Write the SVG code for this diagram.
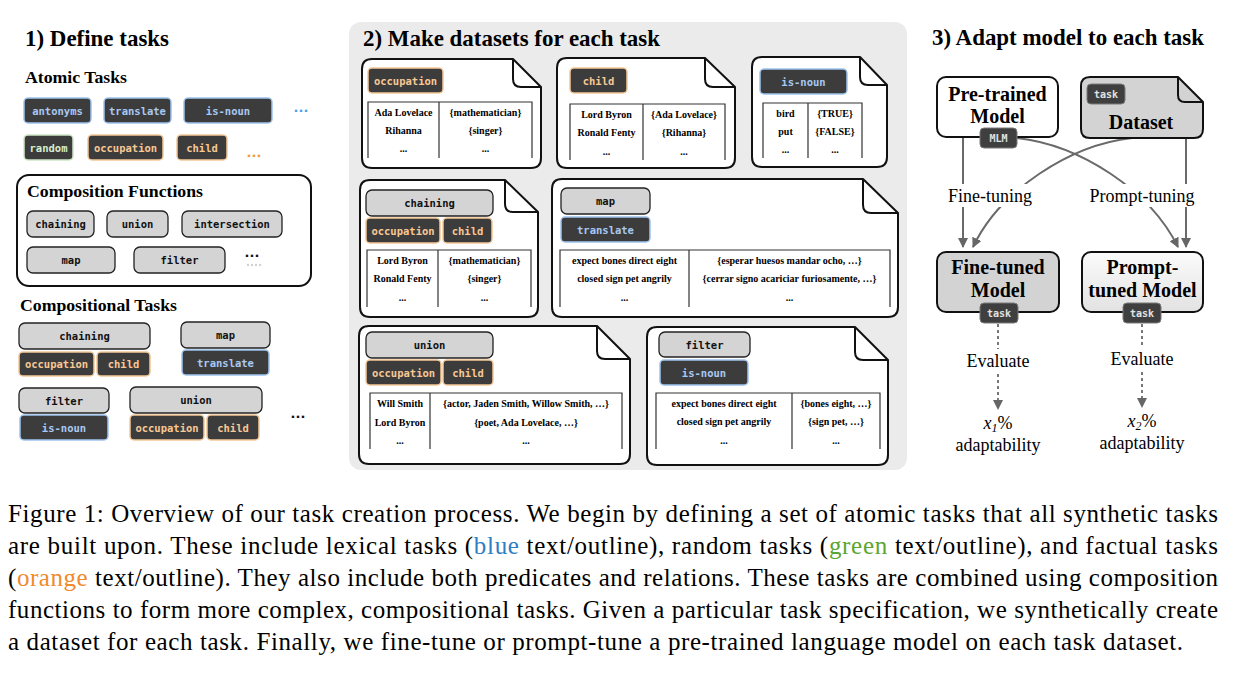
<svg xmlns="http://www.w3.org/2000/svg" width="1240" height="674" viewBox="0 0 1240 674">
<defs>
<style>
.h1{font-family:"Liberation Serif",serif;font-weight:bold;font-size:22.5px;fill:#000}
.h2{font-family:"Liberation Serif",serif;font-weight:bold;font-size:17px;fill:#000}
.mt{font-family:"Liberation Serif",serif;font-weight:bold;font-size:20px;fill:#000;text-anchor:middle}
.lb{font-family:"Liberation Serif",serif;font-size:18px;fill:#000;text-anchor:middle}
.tt{font-family:"Liberation Serif",serif;font-weight:bold;font-size:10px;fill:#000;text-anchor:middle}
.cap{font-family:"Liberation Serif",serif;font-size:25px;fill:#000}
.ct{font-family:"DejaVu Sans Mono",monospace;font-weight:bold;font-size:10.5px;text-anchor:middle}
.cb{fill:#3c3c3c;stroke:#9fc3f0;stroke-width:1.5}
.co{fill:#3c3c3c;stroke:#f5c796;stroke-width:1.5}
.cg{fill:#3c3c3c;stroke:#cfe6c6;stroke-width:1.5}
.cf{fill:#d4d4d4;stroke:#222;stroke-width:1.3}
.ck{fill:#3f3f3f;stroke:#7a7a7a;stroke-width:1}
.tb{fill:#a8c9f2}
.to{fill:#f8c894}
.tg{fill:#d6edcd}
.tf{fill:#111}
.tk{fill:#e2e2e2;font-size:10px}
.dots{font-family:"DejaVu Sans",sans-serif;font-weight:bold;font-size:13px;text-anchor:middle}
.doc{fill:#fff;stroke:#111;stroke-width:2;stroke-linejoin:round}
.flap{fill:none;stroke:#111;stroke-width:2}
.tbl{fill:none;stroke:#333;stroke-width:1.2}
.con{fill:none;stroke:#6a6a6a;stroke-width:2}
.dot{fill:none;stroke:#777;stroke-width:2;stroke-dasharray:3 3}
</style>
<marker id="ah" viewBox="0 0 10 10" refX="9" refY="5" markerWidth="10" markerHeight="10" markerUnits="userSpaceOnUse" orient="auto">
<path d="M0,0 L10,5 L0,10 Z" fill="#666"/>
</marker>
<linearGradient id="pg" x1="0" y1="0" x2="0" y2="1">
<stop offset="0" stop-color="#fbfbfb"/>
<stop offset="1" stop-color="#e2e2e2"/>
</linearGradient>
</defs>
<rect width="1240" height="674" fill="#fff"/>

<!-- Section 1 -->
<g id="section1">
<text class="h1" x="25" y="46" textLength="144" lengthAdjust="spacingAndGlyphs">1) Define tasks</text>
<text class="h2" x="25" y="83" textLength="102" lengthAdjust="spacingAndGlyphs">Atomic Tasks</text>
</g>
<g id="atomic-antonyms"><rect class="cb" x="24" y="98" width="67" height="25" rx="4"/><text class="ct tb" x="57.5" y="114.5">antonyms</text></g>
<g id="atomic-translate"><rect class="cb" x="104" y="98" width="67" height="25" rx="4"/><text class="ct tb" x="137.5" y="114.5">translate</text></g>
<g id="atomic-is-noun"><rect class="cb" x="184" y="98" width="88" height="25" rx="4"/><text class="ct tb" x="228" y="114.5">is-noun</text></g>
<text class="dots" x="301" y="112" fill="#4a9fe8">...</text>
<g id="atomic-random"><rect class="cg" x="24" y="135" width="49" height="25" rx="4"/><text class="ct tg" x="48.5" y="151.5">random</text></g>
<g id="atomic-occupation"><rect class="co" x="88" y="135" width="75" height="25" rx="4"/><text class="ct to" x="125.5" y="151.5">occupation</text></g>
<g id="atomic-child"><rect class="co" x="177" y="135" width="50" height="25" rx="4"/><text class="ct to" x="202" y="151.5">child</text></g>
<text class="dots" x="254" y="157" fill="#f39a3a">...</text>

<g id="composition-functions">
<rect x="17" y="175" width="294" height="111" rx="12" fill="#fff" stroke="#111" stroke-width="2"/>
<text class="h2" x="27" y="197" textLength="176" lengthAdjust="spacingAndGlyphs">Composition Functions</text>
<rect class="cf" x="27" y="211" width="67" height="26" rx="6"/><text class="ct tf" x="60.5" y="228">chaining</text>
<rect class="cf" x="107" y="211" width="61" height="26" rx="6"/><text class="ct tf" x="137.5" y="228">union</text>
<rect class="cf" x="182" y="211" width="100" height="26" rx="6"/><text class="ct tf" x="232" y="228">intersection</text>
<rect class="cf" x="27" y="247" width="88" height="26" rx="6"/><text class="ct tf" x="71" y="264">map</text>
<rect class="cf" x="134" y="247" width="91" height="26" rx="6"/><text class="ct tf" x="179.5" y="264">filter</text>
<text class="dots" x="252" y="257" fill="#111">...</text>
<g fill="#d0d0d0"><circle cx="248" cy="265" r="1.2"/><circle cx="252" cy="265" r="1.2"/><circle cx="256" cy="265" r="1.2"/><circle cx="260" cy="265" r="1.2"/></g>
</g>

<text class="h2" x="20" y="311" textLength="157" lengthAdjust="spacingAndGlyphs">Compositional Tasks</text>
<g id="comp-chaining">
<rect class="cf" x="19" y="323" width="131" height="26" rx="6"/><text class="ct tf" x="84.5" y="340">chaining</text>
<rect class="co" x="19" y="352" width="75" height="24" rx="4"/><text class="ct to" x="56.5" y="368">occupation</text>
<rect class="co" x="97" y="352" width="53" height="24" rx="4"/><text class="ct to" x="123.5" y="368">child</text>
</g>
<g id="comp-map">
<rect class="cf" x="181" y="322" width="89" height="26" rx="6"/><text class="ct tf" x="225.5" y="339">map</text>
<rect class="cb" x="182" y="350" width="87" height="25" rx="4"/><text class="ct tb" x="225.5" y="366.5">translate</text>
</g>
<g id="comp-filter">
<rect class="cf" x="19" y="388" width="90" height="25" rx="6"/><text class="ct tf" x="64" y="404.5">filter</text>
<rect class="cb" x="20" y="415" width="88" height="25" rx="4"/><text class="ct tb" x="64" y="431.5">is-noun</text>
</g>
<g id="comp-union">
<rect class="cf" x="130" y="387" width="132" height="26" rx="6"/><text class="ct tf" x="196" y="404">union</text>
<rect class="co" x="130" y="415" width="74" height="25" rx="4"/><text class="ct to" x="167" y="431.5">occupation</text>
<rect class="co" x="207" y="415" width="52" height="25" rx="4"/><text class="ct to" x="233" y="431.5">child</text>
</g>
<text class="dots" x="298" y="418" fill="#111">...</text>

<!-- Section 2 -->
<g id="section2">
<rect x="349" y="22" width="558" height="448" rx="12" fill="#ebebeb"/>
<text class="h1" x="363" y="46" textLength="297" lengthAdjust="spacingAndGlyphs">2) Make datasets for each task</text>
</g>

<g id="doc-occupation">
<path class="doc" d="M372,59 H513 L541,87 V158 Q541,168 531,168 H372 Q362,168 362,158 V69 Q362,59 372,59 Z"/>
<path class="flap" d="M513,59 V79 Q513,87 521,87 H541"/>
<rect class="co" x="368" y="68" width="75" height="25" rx="4"/><text class="ct to" x="405.5" y="84.5">occupation</text>
<path class="tbl" d="M368,158 V102 H532 V158 M439,102 V158"/>
<text class="tt" x="403.5" y="116">Ada Lovelace</text><text class="tt" x="485.5" y="116">{mathematician}</text>
<text class="tt" x="403.5" y="134">Rihanna</text><text class="tt" x="485.5" y="134">{singer}</text>
<text class="tt" x="403.5" y="152">...</text><text class="tt" x="485.5" y="152">...</text>
</g>

<g id="doc-child">
<path class="doc" d="M567,58 H705 L735,87 V158 Q735,168 725,168 H567 Q557,168 557,158 V68 Q557,58 567,58 Z"/>
<path class="flap" d="M705,58 V79 Q705,87 713,87 H735"/>
<rect class="co" x="570" y="68" width="57" height="25" rx="4"/><text class="ct to" x="598.5" y="84.5">child</text>
<path class="tbl" d="M570,160 V104 H725 V160 M643,104 V160"/>
<text class="tt" x="606.5" y="118">Lord Byron</text><text class="tt" x="684" y="118">{Ada Lovelace}</text>
<text class="tt" x="606.5" y="136">Ronald Fenty</text><text class="tt" x="684" y="136">{Rihanna}</text>
<text class="tt" x="606.5" y="155">...</text><text class="tt" x="684" y="155">...</text>
</g>

<g id="doc-is-noun">
<path class="doc" d="M762,57 H860 L887,85 V157 Q887,167 877,167 H762 Q752,167 752,157 V67 Q752,57 762,57 Z"/>
<path class="flap" d="M860,57 V77 Q860,85 868,85 H887"/>
<rect class="cb" x="760" y="69" width="87" height="25" rx="4"/><text class="ct tb" x="803.5" y="85.5">is-noun</text>
<path class="tbl" d="M763,158 V103 H862 V158 M808,103 V158"/>
<text class="tt" x="785.5" y="117">bird</text><text class="tt" x="835" y="117">{TRUE}</text>
<text class="tt" x="785.5" y="135">put</text><text class="tt" x="835" y="135">{FALSE}</text>
<text class="tt" x="785.5" y="153">...</text><text class="tt" x="835" y="153">...</text>
</g>

<g id="doc-chaining">
<path class="doc" d="M370,180 H505 L538,212 V307 Q538,317 528,317 H370 Q360,317 360,307 V190 Q360,180 370,180 Z"/>
<path class="flap" d="M505,180 V204 Q505,212 513,212 H538"/>
<rect class="cf" x="366" y="190" width="127" height="26" rx="6"/><text class="ct tf" x="429.5" y="207">chaining</text>
<rect class="co" x="366" y="218" width="74" height="25" rx="4"/><text class="ct to" x="403" y="234.5">occupation</text>
<rect class="co" x="443" y="218" width="49" height="25" rx="4"/><text class="ct to" x="467.5" y="234.5">child</text>
<path class="tbl" d="M367,307 V250 H531 V307 M438,250 V307"/>
<text class="tt" x="402.5" y="264">Lord Byron</text><text class="tt" x="484.5" y="264">{mathematician}</text>
<text class="tt" x="402.5" y="282">Ronald Fenty</text><text class="tt" x="484.5" y="282">{singer}</text>
<text class="tt" x="402.5" y="301">...</text><text class="tt" x="484.5" y="301">...</text>
</g>

<g id="doc-map">
<path class="doc" d="M562,179 H863 L898,213 V307 Q898,317 888,317 H562 Q552,317 552,307 V189 Q552,179 562,179 Z"/>
<path class="flap" d="M863,179 V205 Q863,213 871,213 H898"/>
<rect class="cf" x="561" y="188" width="89" height="26" rx="6"/><text class="ct tf" x="605.5" y="205">map</text>
<rect class="cb" x="561" y="217" width="89" height="25" rx="4"/><text class="ct tb" x="605.5" y="233.5">translate</text>
<path class="tbl" d="M560,307 V250 H890 V307 M689,250 V307"/>
<text class="tt" x="624.5" y="264">expect bones direct eight</text><text class="tt" x="789.5" y="264">{esperar huesos mandar ocho, …}</text>
<text class="tt" x="624.5" y="282">closed sign pet angrily</text><text class="tt" x="789.5" y="282">{cerrar signo acariciar furiosamente, …}</text>
<text class="tt" x="624.5" y="301">...</text><text class="tt" x="789.5" y="301">...</text>
</g>

<g id="doc-union">
<path class="doc" d="M369,326 H597 L630,359 V454 Q630,464 620,464 H369 Q359,464 359,454 V336 Q359,326 369,326 Z"/>
<path class="flap" d="M597,326 V351 Q597,359 605,359 H630"/>
<rect class="cf" x="366" y="332" width="127" height="26" rx="6"/><text class="ct tf" x="429.5" y="349">union</text>
<rect class="co" x="366" y="360" width="75" height="25" rx="4"/><text class="ct to" x="403.5" y="376.5">occupation</text>
<rect class="co" x="443" y="360" width="50" height="25" rx="4"/><text class="ct to" x="468" y="376.5">child</text>
<path class="tbl" d="M370,449 V393 H622 V449 M430,393 V449"/>
<text class="tt" x="400" y="407">Will Smith</text><text class="tt" x="526" y="407">{actor, Jaden Smith, Willow Smith, …}</text>
<text class="tt" x="400" y="426">Lord Byron</text><text class="tt" x="526" y="426">{poet, Ada Lovelace, …}</text>
<text class="tt" x="400" y="444">...</text><text class="tt" x="526" y="444">...</text>
</g>

<g id="doc-filter">
<path class="doc" d="M657,327 H855 L888,360 V455 Q888,465 878,465 H657 Q647,465 647,455 V337 Q647,327 657,327 Z"/>
<path class="flap" d="M855,327 V352 Q855,360 863,360 H888"/>
<rect class="cf" x="659" y="332" width="91" height="25" rx="6"/><text class="ct tf" x="704.5" y="348.5">filter</text>
<rect class="cb" x="660" y="360" width="88" height="25" rx="4"/><text class="ct tb" x="704" y="376.5">is-noun</text>
<path class="tbl" d="M656,449 V393 H880 V449 M792,393 V449"/>
<text class="tt" x="724" y="407">expect bones direct eight</text><text class="tt" x="836" y="407">{bones eight, …}</text>
<text class="tt" x="724" y="425">closed sign pet angrily</text><text class="tt" x="836" y="425">{sign pet, …}</text>
<text class="tt" x="724" y="444">...</text><text class="tt" x="836" y="444">...</text>
</g>

<!-- Section 3 -->
<text class="h1" x="932" y="45" textLength="272" lengthAdjust="spacingAndGlyphs">3) Adapt model to each task</text>

<g id="connectors">
<path class="con" d="M963,137 V247" marker-end="url(#ah)"/>
<path class="con" d="M1186,138 V247" marker-end="url(#ah)"/>
<path class="con" d="M1017,138 C1080,145 1150,190 1178,247" marker-end="url(#ah)"/>
<path class="con" d="M1132,138 C1070,145 1000,190 973,247" marker-end="url(#ah)"/>
<rect x="944" y="184" width="92" height="23" fill="#fff"/>
<rect x="1088" y="184" width="108" height="23" fill="#fff"/>
<text class="lb" x="990" y="202">Fine-tuning</text>
<text class="lb" x="1142" y="202">Prompt-tuning</text>
<path class="dot" d="M998,324 V349"/>
<path class="dot" d="M998,374 V409" marker-end="url(#ah)"/>
<path class="dot" d="M1142,324 V347"/>
<path class="dot" d="M1142,372 V407" marker-end="url(#ah)"/>
<text class="lb" x="998" y="367">Evaluate</text>
<text class="lb" x="1142" y="365">Evaluate</text>
</g>

<g id="pretrained-model">
<rect x="937" y="77" width="121" height="60" rx="9" fill="#fff" stroke="#111" stroke-width="2"/>
<text class="mt" x="997.5" y="101">Pre-trained</text>
<text class="mt" x="997.5" y="123">Model</text>
<rect class="ck" x="980" y="128" width="37" height="20" rx="4"/><text class="ct tk" x="998.5" y="142">MLM</text>
</g>

<g id="dataset">
<path class="doc" style="fill:#d3d3d3" d="M1090,77 H1178 L1203,102 V129 Q1203,138 1194,138 H1090 Q1081,138 1081,129 V86 Q1081,77 1090,77 Z"/>
<path class="flap" d="M1178,77 V95 Q1178,102 1185,102 H1203"/>
<rect class="ck" x="1087" y="84" width="38" height="20" rx="4"/><text class="ct tk" x="1106" y="98">task</text>
<text class="mt" x="1141" y="129">Dataset</text>
</g>

<g id="finetuned-model">
<rect x="937" y="252" width="122" height="60" rx="9" fill="#d3d3d3" stroke="#111" stroke-width="2"/>
<text class="mt" x="998" y="274">Fine-tuned</text>
<text class="mt" x="998" y="297">Model</text>
<rect class="ck" x="980" y="303" width="38" height="20" rx="4"/><text class="ct tk" x="999" y="317">task</text>
</g>

<g id="prompttuned-model">
<rect x="1082" y="252" width="121" height="60" rx="9" fill="url(#pg)" stroke="#111" stroke-width="2"/>
<text class="mt" x="1142.5" y="274">Prompt-</text>
<text class="mt" x="1142.5" y="297">tuned Model</text>
<rect class="ck" x="1123" y="303" width="38" height="20" rx="4"/><text class="ct tk" x="1142" y="317">task</text>
</g>

<g id="result1">
<text class="lb" x="998" y="429"><tspan font-style="italic">x</tspan><tspan font-style="italic" font-size="12" dy="3">1</tspan><tspan dy="-3">%</tspan></text>
<text class="lb" x="998" y="451">adaptability</text>
</g>
<g id="result2">
<text class="lb" x="1142" y="427"><tspan font-style="italic">x</tspan><tspan font-style="italic" font-size="12" dy="3">2</tspan><tspan dy="-3">%</tspan></text>
<text class="lb" x="1142" y="449">adaptability</text>
</g>

<!-- Caption -->
<g id="caption">
<text class="cap" x="8" y="522" textLength="1210" lengthAdjust="spacing">Figure 1: Overview of our task creation process. We begin by defining a set of atomic tasks that all synthetic tasks</text>
<text class="cap" x="8" y="554" textLength="1210" lengthAdjust="spacing">are built upon. These include lexical tasks (<tspan fill="#2f7ec3">blue</tspan> text/outline), random tasks (<tspan fill="#5aa630">green</tspan> text/outline), and factual tasks</text>
<text class="cap" x="8" y="586" textLength="1210" lengthAdjust="spacing">(<tspan fill="#f08a2c">orange</tspan> text/outline). They also include both predicates and relations. These tasks are combined using composition</text>
<text class="cap" x="8" y="618" textLength="1210" lengthAdjust="spacing">functions to form more complex, compositional tasks. Given a particular task specification, we synthetically create</text>
<text class="cap" x="8" y="650" textLength="1175" lengthAdjust="spacing">a dataset for each task. Finally, we fine-tune or prompt-tune a pre-trained language model on each task dataset.</text>
</g>
</svg>
